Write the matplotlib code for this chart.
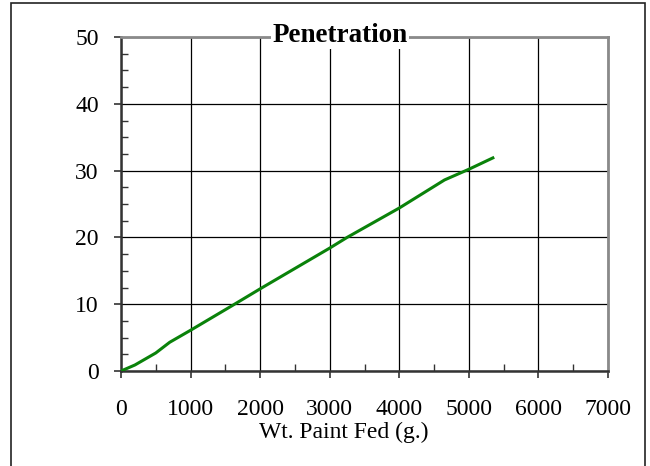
import matplotlib
matplotlib.use("Agg")
from matplotlib import pyplot as plt
from matplotlib.patches import Rectangle
from matplotlib.ticker import MultipleLocator

# values
paint_fed = [0, 200, 500, 700, 1000, 1600, 2000, 3000, 3250, 4000, 4650, 5000, 5345]
penetration = [0, 0.9, 2.7, 4.3, 6.1, 9.8, 12.3, 18.4, 20.0, 24.4, 28.6, 30.2, 31.9]

x_ticks = [0, 1000, 2000, 3000, 4000, 5000, 6000, 7000]
y_ticks = [0, 10, 20, 30, 40, 50]

plt.rcParams["font.family"] = ["Liberation Serif", "DejaVu Serif"]

fig = plt.figure(figsize=(6.5, 4.66), dpi=100)
fig.patch.set_facecolor("white")

# thin frame round the chart area
fig.patches.append(
    Rectangle((11 / 650, -0.05), (645 - 11) / 650, 1.05 - 3 / 466,
              transform=fig.transFigure, fill=False,
              edgecolor="#222222", linewidth=1.2)
)

ax = fig.add_axes([121 / 650, 1 - 371 / 466, (608 - 121) / 650, (371 - 37) / 466])

ax.plot(paint_fed, penetration, color="#0a820a", linewidth=2.2, zorder=3)

ax.set_xlim(0, 7000)
ax.set_ylim(0, 50)
ax.set_xticks(x_ticks)
ax.set_yticks(y_ticks)
ax.xaxis.set_minor_locator(MultipleLocator(500))
ax.yaxis.set_minor_locator(MultipleLocator(2.5))

ax.grid(True, which="major", color="black", linewidth=0.9)
ax.tick_params(which="major", direction="out", length=5, width=1.2,
               color="#333333", labelsize=17)
ax.tick_params(axis="x", which="major", pad=15)
ax.tick_params(axis="y", which="major", pad=11)
ax.tick_params(which="minor", direction="in", length=5, width=1.0,
               color="#333333")

for side in ("left", "bottom"):
    ax.spines[side].set_color("#333333")
    ax.spines[side].set_linewidth(1.8)
for side in ("top", "right"):
    ax.spines[side].set_color("#8a8a8a")
    ax.spines[side].set_linewidth(2.0)

fig.text(344 / 650, 1 - 438 / 466, "Wt. Paint Fed (g.)", fontsize=17,
         ha="center", va="baseline")

fig.text(340 / 650, 1 - 42 / 466, "Penetration", fontsize=19.5, fontweight="bold",
         ha="center", va="baseline",
         bbox=dict(facecolor="white", edgecolor="none", pad=1))

fig.savefig("out.png", dpi=100)
plt.close(fig)
